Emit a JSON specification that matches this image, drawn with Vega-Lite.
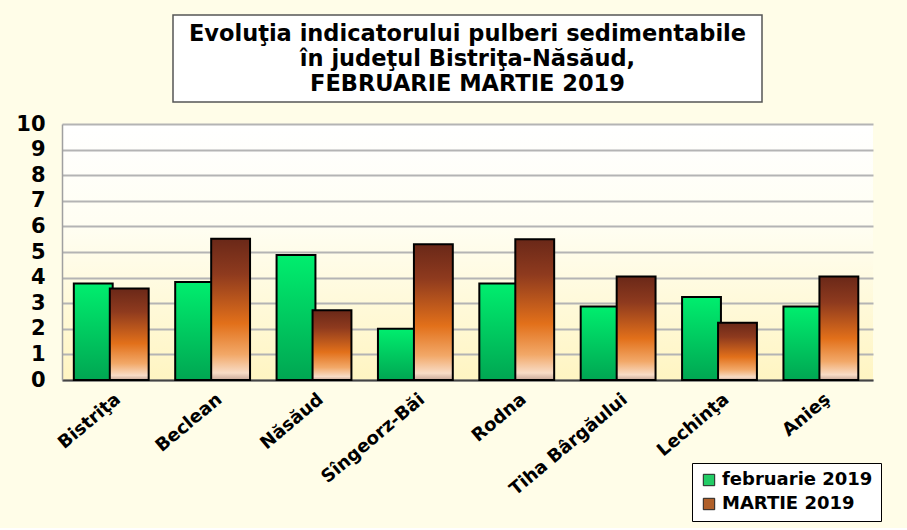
{
 "$schema": "https://vega.github.io/schema/vega-lite/v6.json",
 "background": "#FFFDE8",
 "padding": {"left": 15, "top": 14, "right": 34, "bottom": 6},
 "bounds": "flush",
 "center": true,
 "spacing": 22,
 "config": {"font": "DejaVu Sans", "view": {"stroke": null}},
 "vconcat": [
  {
   "width": 589,
   "height": 87,
   "view": {"stroke": "#555555", "strokeWidth": 1.5, "fill": "#FFFFFF"},
   "data": {"values": [{"t": "Evoluţia indicatorului pulberi sedimentabile\nîn judeţul Bistriţa-Năsăud,\nFEBRUARIE MARTIE 2019"}]},
   "mark": {"type": "text", "lineBreak": "\n", "fontSize": 22.5, "fontWeight": "bold", "font": "DejaVu Sans", "color": "#000000", "lineHeight": 25, "align": "center", "baseline": "middle", "dy": -25},
   "encoding": {"text": {"field": "t"}}
  },
  {
   "width": 811,
   "height": 256,
   "view": {"fill": {"gradient": "linear", "x1": 0, "y1": 0, "x2": 0, "y2": 1, "stops": [{"offset": 0, "color": "#FFFFFF"}, {"offset": 0.4, "color": "#FFFEF2"}, {"offset": 1, "color": "#FFF5C2"}]}},
   "data": {"values": [
    {"loc": "Bistriţa", "series": "februarie 2019", "value": 3.77},
    {"loc": "Bistriţa", "series": "MARTIE 2019", "value": 3.57},
    {"loc": "Beclean", "series": "februarie 2019", "value": 3.83},
    {"loc": "Beclean", "series": "MARTIE 2019", "value": 5.52},
    {"loc": "Năsăud", "series": "februarie 2019", "value": 4.88},
    {"loc": "Năsăud", "series": "MARTIE 2019", "value": 2.72},
    {"loc": "Sîngeorz-Băi", "series": "februarie 2019", "value": 2.0},
    {"loc": "Sîngeorz-Băi", "series": "MARTIE 2019", "value": 5.3},
    {"loc": "Rodna", "series": "februarie 2019", "value": 3.77},
    {"loc": "Rodna", "series": "MARTIE 2019", "value": 5.5},
    {"loc": "Tiha Bârgăului", "series": "februarie 2019", "value": 2.87},
    {"loc": "Tiha Bârgăului", "series": "MARTIE 2019", "value": 4.04},
    {"loc": "Lechinţa", "series": "februarie 2019", "value": 3.24},
    {"loc": "Lechinţa", "series": "MARTIE 2019", "value": 2.24},
    {"loc": "Anieş", "series": "februarie 2019", "value": 2.87},
    {"loc": "Anieş", "series": "MARTIE 2019", "value": 4.04}
   ]},
   "encoding": {
    "x": {"field": "loc", "type": "nominal", "sort": null, "title": null,
      "scale": {"paddingInner": 0.29, "paddingOuter": 0.145},
      "axis": {"labelAngle": -40, "labelFontSize": 18, "labelFontWeight": "bold", "labelColor": "#000000", "ticks": false, "domainColor": "#444444", "domainWidth": 2, "labelPadding": 10, "labelLimit": 0, "grid": false}},
    "xOffset": {"field": "series", "type": "nominal", "scale": {"domain": ["februarie 2019", "MARTIE 2019"], "paddingInner": 0, "paddingOuter": 0}},
    "y": {"field": "value", "type": "quantitative", "title": null,
      "scale": {"domain": [0, 10], "nice": false},
      "axis": {"values": [0,1,2,3,4,5,6,7,8,9,10], "labelOverlap": false, "grid": true, "gridColor": "#B4B4B4", "gridWidth": 2, "domain": true, "domainColor": "#A0A0A0", "domainWidth": 1.5, "ticks": false, "labelFontSize": 21, "labelFontWeight": "bold", "labelColor": "#000000", "labelPadding": 17}}
   },
   "layer": [
    {
     "mark": {"type": "point", "shape": "square", "filled": true, "size": 20, "opacity": 0},
     "encoding": {
      "color": {"field": "series", "type": "nominal",
        "scale": {"domain": ["februarie 2019", "MARTIE 2019"], "range": ["#22CC66", "#B0602A"]},
        "legend": {"orient": "none", "legendX": 630, "legendY": 448, "title": null, "fillColor": "#FFFFFF", "strokeColor": "#000000", "padding": 8, "labelFontSize": 18, "labelFontWeight": "bold", "labelColor": "#000000", "symbolType": "square", "symbolSize": 130, "symbolOpacity": 1, "symbolStrokeColor": "#222222", "symbolStrokeWidth": 1, "rowPadding": 6, "labelOffset": 4, "labelLimit": 0}}
     }
    },
    {
     "transform": [{"filter": "datum.series === 'februarie 2019'"}],
     "mark": {"type": "bar", "stroke": "#000000", "strokeWidth": 2, "width": {"band": 1.08},
       "fill": {"gradient": "linear", "x1": 0, "y1": 0, "x2": 0, "y2": 1, "stops": [{"offset": 0, "color": "#00EE6E"}, {"offset": 1, "color": "#00A652"}]}}
    },
    {
     "transform": [{"filter": "datum.series === 'MARTIE 2019'"}],
     "mark": {"type": "bar", "stroke": "#000000", "strokeWidth": 2, "width": {"band": 1.08},
       "fill": {"gradient": "linear", "x1": 0, "y1": 0, "x2": 0, "y2": 1, "stops": [{"offset": 0, "color": "#6A2818"}, {"offset": 0.25, "color": "#8E3A1E"}, {"offset": 0.6, "color": "#E2701A"}, {"offset": 0.82, "color": "#F2A868"}, {"offset": 0.95, "color": "#F8DCC6"}, {"offset": 1, "color": "#C8A898"}]}}
    }
   ]
  }
 ]
}
